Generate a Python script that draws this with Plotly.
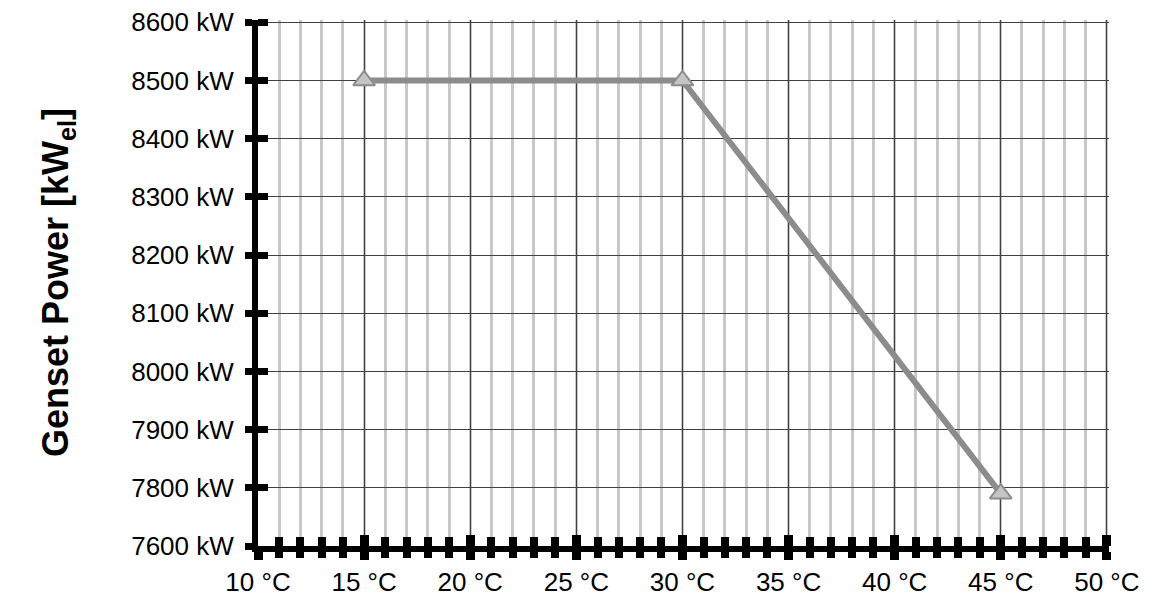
import plotly.graph_objects as go

# Daten: Genset-Leistung über Ansaugtemperatur
temp_c = [15, 30, 45]
power_kw = [8500, 8500, 7790]

# Achse im Original ist bei 7700 abgeschnitten, die unterste Marke trägt "7600 kW"
y_tick_vals = [7700, 7800, 7900, 8000, 8100, 8200, 8300, 8400, 8500, 8600]
y_tick_text = ["7600 kW", "7800 kW", "7900 kW", "8000 kW", "8100 kW",
               "8200 kW", "8300 kW", "8400 kW", "8500 kW", "8600 kW"]
x_ticks = [10, 15, 20, 25, 30, 35, 40, 45, 50]
x_labels = [f"{v} °C" for v in x_ticks]

font = "Liberation Sans, Arial, sans-serif"

fig = go.Figure()
fig.add_trace(go.Scatter(
    x=temp_c, y=power_kw, mode="lines+markers",
    line=dict(color="#8c8c8c", width=6),
    marker=dict(symbol="triangle-up", size=19, color="#c4c4c4",
                line=dict(color="#8c8c8c", width=2)),
    cliponaxis=False, showlegend=False,
))

# Seite hat 8px Body-Rand -> Ränder entsprechend verschoben
# Bereiche leicht über 8600 / 50 hinaus, damit die Randgitterlinien sichtbar bleiben
fig.update_layout(
    width=1152, height=614,
    margin=dict(l=250, r=51, t=12, b=76),
    paper_bgcolor="white", plot_bgcolor="white",
    font=dict(family=font, size=26, color="black"),
    xaxis=dict(
        range=[10, 50.1], tickvals=x_ticks, ticktext=x_labels,
        showline=True, linecolor="black", linewidth=6,
        ticks="outside", ticklen=8, tickwidth=9, tickcolor="black",
        ticklabeloverflow="allow", automargin=False,
        showgrid=True, gridcolor="#404040", gridwidth=1,
        minor=dict(dtick=1, showgrid=True, gridcolor="#c8c8c8", gridwidth=3,
                   ticks="outside", ticklen=6, tickwidth=8, tickcolor="black"),
        zeroline=False,
    ),
    xaxis2=dict(
        range=[10, 50.1], overlaying="x", side="bottom", tickvals=x_ticks,
        showticklabels=False, showgrid=False, zeroline=False, automargin=False,
        ticks="inside", ticklen=11, tickwidth=9, tickcolor="black",
        minor=dict(dtick=1, ticks="inside", ticklen=9, tickwidth=8,
                   tickcolor="black", showgrid=False),
    ),
    yaxis=dict(
        range=[7700, 8604], tickvals=y_tick_vals, ticktext=y_tick_text,
        showline=True, linecolor="black", linewidth=6,
        ticks="outside", ticklen=7, tickwidth=7, tickcolor="black",
        ticklabelstandoff=6, ticklabeloverflow="allow", automargin=False,
        showgrid=True, gridcolor="#404040", gridwidth=1.2,
        zeroline=False,
    ),
    yaxis2=dict(
        range=[7700, 8604], overlaying="y", side="left", tickvals=y_tick_vals,
        showticklabels=False, showgrid=False, zeroline=False, automargin=False,
        ticks="inside", ticklen=10, tickwidth=7, tickcolor="black",
    ),
    annotations=[dict(
        text="<b>Genset Power [kW<sub>el</sub>]</b>",
        xref="paper", yref="paper", x=-0.235, y=0.5,
        xanchor="center", yanchor="middle", textangle=-90,
        showarrow=False, font=dict(family=font, size=36, color="black"),
    )],
)

# unsichtbare Spur, damit die zweiten Achsen gezeichnet werden
fig.add_trace(go.Scatter(x=[temp_c[0]], y=[power_kw[0]], xaxis="x2", yaxis="y2",
                         mode="markers", marker=dict(opacity=0),
                         showlegend=False, hoverinfo="skip"))

fig.write_html("out.html")
